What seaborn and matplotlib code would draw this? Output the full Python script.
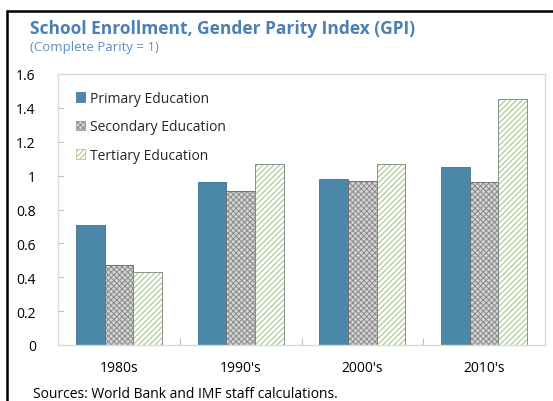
import matplotlib
matplotlib.use("Agg")
import matplotlib.pyplot as plt
import seaborn as sns
import pandas as pd
from matplotlib.patches import Patch
from matplotlib.lines import Line2D

periods = ["1980s", "1990's", "2000's", "2010's"]
series = ["Primary Education", "Secondary Education", "Tertiary Education"]
primary = [0.71, 0.96, 0.98, 1.05]
secondary = [0.47, 0.91, 0.97, 0.96]
tertiary = [0.43, 1.07, 1.07, 1.45]
yticks = [0, 0.2, 0.4, 0.6, 0.8, 1.0, 1.2, 1.4, 1.6]

title = "School Enrollment, Gender Parity Index (GPI)"
subtitle = "(Complete Parity = 1)"
source = "Sources: World Bank and IMF staff calculations."

rows = []
for name, vals in zip(series, [primary, secondary, tertiary]):
    for p, v in zip(periods, vals):
        rows.append({"period": p, "series": name, "value": v})
df = pd.DataFrame(rows)

sns.set_theme(style="white")
plt.rcParams["font.family"] = ["Open Sans", "DejaVu Sans"]
plt.rcParams["hatch.linewidth"] = 0.7

faces = ["#4a87a9", "#d4d4d4", "#ffffff"]
hatches = [None, "xxxxxx", "//////"]
hatch_cols = [None, "#8a8a8a", "#9cc07c"]
edges = ["#3c6f8c", "#6f6f6f", "#8a8a8a"]

fig = plt.figure(figsize=(5.53, 4.02), dpi=100)
ax = fig.add_axes([58 / 553, 1 - 346 / 402, 487 / 553, 271 / 402])

sns.barplot(data=df, x="period", y="value", hue="series", order=periods,
            hue_order=series, palette=faces, width=0.706, gap=0,
            saturation=1, ax=ax, legend=False)

for i, cont in enumerate(ax.containers):
    for bar in cont:
        bar.set_facecolor(faces[i])
        bar.set_linewidth(0.6)
        if hatches[i]:
            bar.set_hatch(hatches[i])
            bar.set_edgecolor(hatch_cols[i])
        else:
            bar.set_edgecolor(edges[i])

# outline for hatched bars
for i, cont in enumerate(ax.containers):
    if hatches[i]:
        for bar in cont:
            x, y = bar.get_xy()
            r = plt.Rectangle((x, y), bar.get_width(), bar.get_height(),
                              fill=False, edgecolor=edges[i], linewidth=0.6)
            ax.add_patch(r)

ax.set_ylim(0, 1.6)
ax.set_xlim(-0.5, 3.5)
ax.set_yticks(yticks)
ax.set_yticklabels([f"{v:g}" for v in yticks], fontsize=10, color="black")
ax.set_xticks(range(len(periods)))
ax.set_xticklabels(periods, fontsize=10, color="black")
ax.tick_params(axis="x", length=0, pad=11)
ax.tick_params(axis="y", length=0, pad=16)
ax.set_xticks([0.5, 1.5, 2.5], minor=True)
ax.tick_params(axis="x", which="minor", length=5, direction="in",
               color="#bfbfbf", width=0.8, bottom=True)
ax.set_xlabel("")
ax.set_ylabel("")
for s in ax.spines.values():
    s.set_visible(True)
    s.set_color("#d9d9d9")
    s.set_linewidth(1.0)
for v in yticks[1:-1]:
    ax.plot([-0.5, -0.5 + 0.04], [v, v], color="#bfbfbf", lw=0.8,
            clip_on=False, transform=ax.transData)

handles = [Patch(facecolor=faces[i], edgecolor=(edges[i] if i == 0 else hatch_cols[i]),
                 hatch=hatches[i], linewidth=0.5, label=series[i]) for i in range(3)]
leg = ax.legend(handles=handles, loc="upper left", bbox_to_anchor=(0.025, 0.957),
                frameon=False, fontsize=10, handlelength=0.7, handleheight=0.7,
                handletextpad=0.3, labelspacing=0.95, borderaxespad=0)

fig.text(30 / 553, 1 - 29 / 402, title, fontsize=12.5, fontweight="bold",
         color="#4a80b3", va="center", ha="left")
fig.text(30 / 553, 1 - 47 / 402, subtitle, fontsize=9.5, color="#5b8fc4",
         va="center", ha="left")
fig.text(33 / 553, 1 - 398 / 402, source, fontsize=10, color="black",
         va="baseline", ha="left")

fig.add_artist(Line2D([7 / 553, 7 / 553], [0, 1 - 12 / 402], color="black",
                      lw=1.8, transform=fig.transFigure))
fig.add_artist(Line2D([7 / 553, 1], [1 - 12 / 402, 1 - 12 / 402], color="black",
                      lw=1.8, transform=fig.transFigure))

fig.savefig("out.png", dpi=100, facecolor="white")
